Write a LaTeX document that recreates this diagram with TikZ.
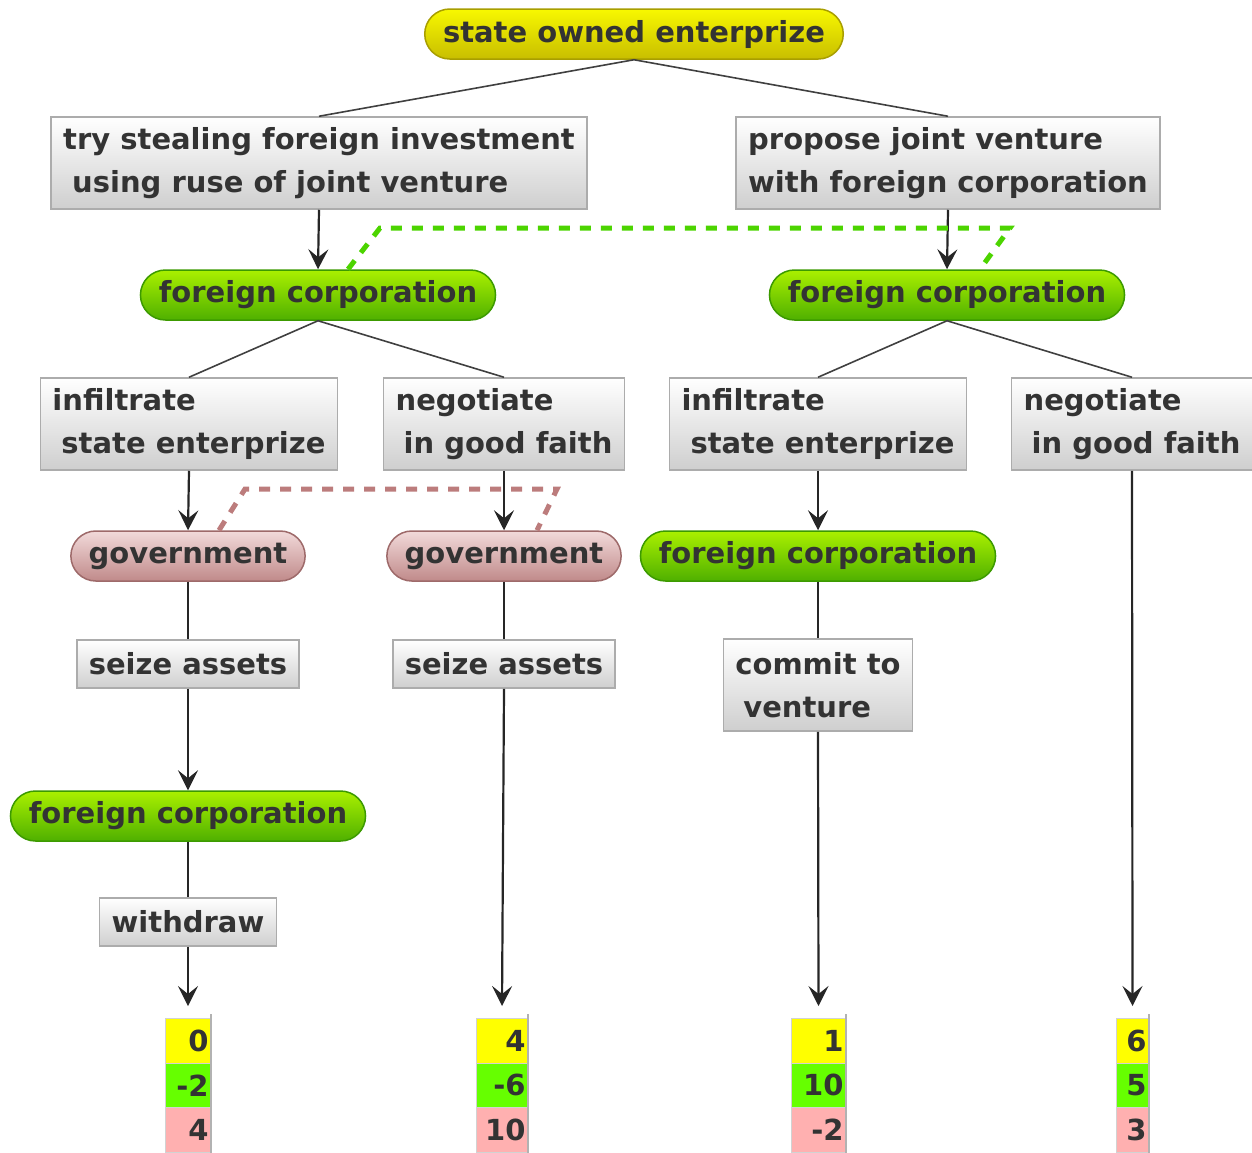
\documentclass[tikz,border=0pt]{standalone}
\usepackage{fontspec}
\setmainfont{DejaVu Sans}
\usepackage{xcolor}
\usetikzlibrary{shapes.misc,arrows.meta}

\definecolor{ylwtop}{HTML}{F8F800}
\definecolor{ylwbot}{HTML}{C8BE00}
\definecolor{ylwedge}{HTML}{A89E00}
\definecolor{grntop}{HTML}{AAF000}
\definecolor{grnbot}{HTML}{4FB000}
\definecolor{grnedge}{HTML}{3C9A00}
\definecolor{govtop}{HTML}{F2DADA}
\definecolor{govbot}{HTML}{C08A8A}
\definecolor{govedge}{HTML}{9E6A6A}
\definecolor{infogrn}{HTML}{4CD400}
\definecolor{infored}{HTML}{BC7C7C}
\definecolor{payylw}{HTML}{FFFF00}
\definecolor{paygrn}{HTML}{66FF00}
\definecolor{payred}{HTML}{FFB0B0}

\begin{document}
\begin{tikzpicture}[x=1pt,y=1pt,
        every node/.style={font=\bfseries\fontsize{29}{43}\selectfont, text=black!80},
        pill/.style={rounded rectangle, minimum height=50pt, inner xsep=14pt, inner ysep=0pt, line width=1.5pt},
        soepill/.style={pill, top color=ylwtop, bottom color=ylwbot, draw=ylwedge},
        fcpill/.style={pill, top color=grntop, bottom color=grnbot, draw=grnedge},
        govpill/.style={pill, top color=govtop, bottom color=govbot, draw=govedge},
        movebox/.style={rectangle, align=left, inner xsep=12pt, inner ysep=2pt, minimum height=48pt, top color=white, bottom color=gray!38, draw=gray!65, line width=1.5pt},
        twoline/.style={minimum height=92pt},
        paycell/.style={rectangle, anchor=north west, minimum height=44.5pt, inner sep=0pt, align=right, draw=gray!35, line width=1pt},
        cut/.style={black!75, line width=1.6pt},
        edgeline/.style={gray!30!black, line width=2.2pt},
        move/.style={edgeline, -{Stealth[length=20pt,width=20pt,inset=8pt]}},
        infoG/.style={infogrn, line width=5pt, dash pattern=on 11pt off 10pt},
        infoR/.style={infored, line width=5pt, dash pattern=on 11pt off 10pt}]
        \useasboundingbox (0,0) rectangle (1252,-1152);
        % decision nodes and moves
        \node [soepill] (soe) at (634,-34) {state owned enterprize};
        \node [movebox, twoline] (steal) at (319,-163) {try stealing foreign investment\\\hspace{9pt}using ruse of joint venture};
        \node [movebox, twoline] (propose) at (948,-163) {propose joint venture\\with foreign corporation};
        \node [fcpill] (fcL) at (318,-295) {foreign corporation};
        \node [fcpill] (fcR) at (947,-295) {foreign corporation};
        \node [movebox, twoline] (infL) at (189,-424) {infiltrate\\\hspace{9pt}state enterprize};
        \node [movebox, twoline] (negL) at (504,-424) {negotiate\\\hspace{8pt}in good faith};
        \node [movebox, twoline] (infR) at (818,-424) {infiltrate\\\hspace{9pt}state enterprize};
        \node [movebox, twoline] (negR) at (1132,-424) {negotiate\\\hspace{8pt}in good faith};
        \node [govpill] (govL) at (188,-556) {government};
        \node [govpill] (govR) at (504,-556) {government};
        \node [fcpill] (fcM) at (818,-556) {foreign corporation};
        \node [movebox] (seizeL) at (188,-664) {seize assets};
        \node [movebox] (seizeR) at (504,-664) {seize assets};
        \node [movebox, twoline] (commit) at (818,-685) {commit to\\\hspace{8pt}venture};
        \node [fcpill] (fcW) at (188,-816) {foreign corporation};
        \node [movebox] (withdraw) at (188,-922) {withdraw};
        % payoffs
        \node [paycell, fill=payylw, text width=41pt, minimum width=45pt] (p1a) at (165,-1018) {0};
        \node [paycell, fill=paygrn, text width=41pt, minimum width=45pt] (p1b) at (165,-1062.5) {-2};
        \node [paycell, fill=payred, text width=41pt, minimum width=45pt] (p1c) at (165,-1107) {4};
        \node [paycell, fill=payylw, text width=47pt, minimum width=51pt] (p2a) at (476,-1018) {4};
        \node [paycell, fill=paygrn, text width=47pt, minimum width=51pt] (p2b) at (476,-1062.5) {-6};
        \node [paycell, fill=payred, text width=47pt, minimum width=51pt] (p2c) at (476,-1107) {10};
        \node [paycell, fill=payylw, text width=50pt, minimum width=54pt] (p3a) at (791,-1018) {1};
        \node [paycell, fill=paygrn, text width=50pt, minimum width=54pt] (p3b) at (791,-1062.5) {10};
        \node [paycell, fill=payred, text width=50pt, minimum width=54pt] (p3c) at (791,-1107) {-2};
        \node [paycell, fill=payylw, text width=28pt, minimum width=32pt] (p4a) at (1116,-1018) {6};
        \node [paycell, fill=paygrn, text width=28pt, minimum width=32pt] (p4b) at (1116,-1062.5) {5};
        \node [paycell, fill=payred, text width=28pt, minimum width=32pt] (p4c) at (1116,-1107) {3};
        \draw [gray!60, line width=2pt] ([yshift=4pt]p1a.north east) -- (p1c.south east);
        \draw [gray!60, line width=2pt] ([yshift=4pt]p2a.north east) -- (p2c.south east);
        \draw [gray!60, line width=2pt] ([yshift=4pt]p3a.north east) -- (p3c.south east);
        \draw [gray!60, line width=2pt] ([yshift=4pt]p4a.north east) -- (p4c.south east);
        % edges
        \draw [cut] (soe.south) -- (steal.north);
        \draw [cut] (soe.south) -- (propose.north);
        \draw [cut] (fcL.south) -- (infL.north);
        \draw [cut] (fcL.south) -- (negL.north);
        \draw [cut] (fcR.south) -- (infR.north);
        \draw [cut] (fcR.south) -- (negR.north);
        \draw [move] (steal.south) -- (fcL.north);
        \draw [move] (propose.south) -- (fcR.north);
        \draw [move] (infL.south) -- (govL.north);
        \draw [move] (negL.south) -- (govR.north);
        \draw [move] (infR.south) -- (fcM.north);
        \draw [edgeline] (govL.south) -- (seizeL.north);
        \draw [move] (seizeL.south) -- (fcW.north);
        \draw [edgeline] (fcW.south) -- (withdraw.north);
        \draw [move] (withdraw.south) -- ([yshift=12pt]p1a.north);
        \draw [edgeline] (govR.south) -- (seizeR.north);
        \draw [move] (seizeR.south) -- ([yshift=12pt]p2a.north);
        \draw [edgeline] (fcM.south) -- (commit.north);
        \draw [move] (commit.south) -- ([yshift=12pt]p3a.north);
        \draw [move] (negR.south) -- ([yshift=12pt]p4a.north);
        % information sets
        \coordinate (isG1) at (380,-228);
        \coordinate (isG2) at (1010,-228);
        \draw [infoG] ([xshift=30pt]fcL.north) -- (isG1) -- (isG2) -- ([xshift=33pt]fcR.north);
        \coordinate (isR1) at (245,-489);
        \coordinate (isR2) at (557,-489);
        \draw [infoR] ([xshift=31pt]govL.north) -- (isR1) -- (isR2) -- ([xshift=33pt]govR.north);
\end{tikzpicture}
\end{document}
